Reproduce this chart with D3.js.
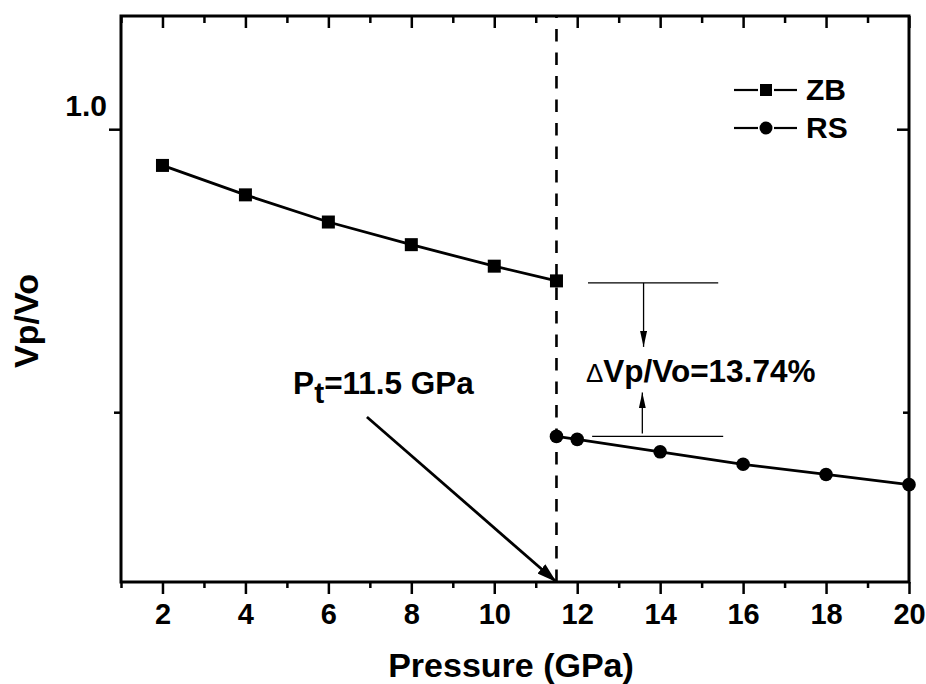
<!DOCTYPE html>
<html>
<head>
<meta charset="utf-8">
<script src="https://cdn.jsdelivr.net/npm/d3@7"></script>
<style>
  html, body { margin: 0; padding: 0; background: #fff; }
  svg text { font-family: "Liberation Sans", Arial, Helvetica, sans-serif; font-weight: bold; fill: #000; }
</style>
</head>
<body>
<svg id="chart" width="926" height="684"></svg>
<script>
// Pressure (GPa) and relative volume Vp/Vo for the two phases
const zbPressure = [2, 4, 6, 8, 10, 11.5];
const zbVolume   = [0.968, 0.942, 0.918, 0.898, 0.879, 0.866];
const rsPressure = [11.5, 12, 14, 16, 18, 20];
const rsVolume   = [0.7286, 0.726, 0.715, 0.704, 0.695, 0.686];

const xMajorTicks = [2, 4, 6, 8, 10, 12, 14, 16, 18, 20];
const xMinorTicks = [1, 3, 5, 7, 9, 11, 13, 15, 17, 19];
const yMajorTicks = [1.0];
const yMinorTicks = [0.75];

const transitionPressure = 11.5;
const volumeCollapse = 13.74; // percent

const svg = d3.select("#chart");
const m = { left: 121, right: 909, top: 16, bottom: 582 };

const x = d3.scaleLinear().domain([1, 20]).range([m.left, m.right]);
const y = d3.scaleLinear().domain([0.6, 1.1]).range([m.bottom, m.top]);

const zb = zbPressure.map((p, i) => ({ p, v: zbVolume[i] }));
const rs = rsPressure.map((p, i) => ({ p, v: rsVolume[i] }));

// Arrow heads
const defs = svg.append("defs");
defs.append("marker").attr("id", "bigHead")
  .attr("viewBox", "0 0 20 12").attr("refX", 20).attr("refY", 6)
  .attr("markerUnits", "userSpaceOnUse").attr("markerWidth", 20).attr("markerHeight", 12)
  .attr("orient", "auto")
  .append("path").attr("d", "M0,0 L20,6 L0,12 Z").attr("fill", "#000");
defs.append("marker").attr("id", "smallHead")
  .attr("viewBox", "0 0 16 7").attr("refX", 16).attr("refY", 3.5)
  .attr("markerUnits", "userSpaceOnUse").attr("markerWidth", 16).attr("markerHeight", 7)
  .attr("orient", "auto")
  .append("path").attr("d", "M0,0 L16,3.5 L0,7 Z").attr("fill", "#000");

// Axes: bottom/left ticks outward, top/right ticks inward
const axisStyle = g => {
  g.select(".domain").remove();
  g.selectAll(".tick line").attr("stroke", "#000").attr("stroke-width", 2.5);
};
const fmtX = d3.format("d");

svg.append("g").attr("transform", `translate(0,${m.bottom})`)
  .call(d3.axisBottom(x).tickValues(xMajorTicks).tickSize(12).tickPadding(9).tickFormat(fmtX))
  .call(axisStyle)
  .call(g => g.selectAll("text").attr("font-size", 29));
svg.append("g").attr("transform", `translate(0,${m.bottom})`)
  .call(d3.axisBottom(x).tickValues(xMinorTicks).tickSize(6).tickFormat(""))
  .call(axisStyle);

svg.append("g").attr("transform", `translate(0,${m.top})`)
  .call(d3.axisBottom(x).tickValues(xMajorTicks).tickSize(12).tickFormat(""))
  .call(axisStyle);
svg.append("g").attr("transform", `translate(0,${m.top})`)
  .call(d3.axisBottom(x).tickValues(xMinorTicks).tickSize(7).tickFormat(""))
  .call(axisStyle);

svg.append("g").attr("transform", `translate(${m.left},0)`)
  .call(d3.axisLeft(y).tickValues(yMajorTicks).tickSize(12).tickPadding(2).tickFormat(d3.format(".1f")))
  .call(axisStyle)
  .call(g => g.selectAll("text").attr("font-size", 30).attr("dy", "-0.45em"));
svg.append("g").attr("transform", `translate(${m.left},0)`)
  .call(d3.axisLeft(y).tickValues(yMinorTicks).tickSize(7).tickFormat(""))
  .call(axisStyle);

svg.append("g").attr("transform", `translate(${m.right},0)`)
  .call(d3.axisRight(y).tickValues(yMajorTicks).tickSize(-12).tickFormat(""))
  .call(axisStyle);
svg.append("g").attr("transform", `translate(${m.right},0)`)
  .call(d3.axisRight(y).tickValues(yMinorTicks).tickSize(-6).tickFormat(""))
  .call(axisStyle);

// Frame
svg.append("rect")
  .attr("x", m.left).attr("y", m.top)
  .attr("width", m.right - m.left).attr("height", m.bottom - m.top)
  .attr("fill", "none").attr("stroke", "#000").attr("stroke-width", 3);

// Transition pressure marker
svg.append("line")
  .attr("x1", x(transitionPressure)).attr("x2", x(transitionPressure))
  .attr("y1", m.bottom).attr("y2", m.top)
  .attr("stroke", "#000").attr("stroke-width", 2.6)
  .attr("stroke-dasharray", "12.5,11");

// Series
const line = d3.line().x(d => x(d.p)).y(d => y(d.v));
svg.append("path").datum(zb).attr("d", line)
  .attr("fill", "none").attr("stroke", "#000").attr("stroke-width", 2.8);
svg.append("path").datum(rs).attr("d", line)
  .attr("fill", "none").attr("stroke", "#000").attr("stroke-width", 2.8);

const sq = 13;
svg.append("g").selectAll("rect").data(zb).join("rect")
  .attr("x", d => x(d.p) - sq / 2).attr("y", d => y(d.v) - sq / 2)
  .attr("width", sq).attr("height", sq).attr("fill", "#000");
svg.append("g").selectAll("circle").data(rs).join("circle")
  .attr("cx", d => x(d.p)).attr("cy", d => y(d.v)).attr("r", 6.8).attr("fill", "#000");

// Volume collapse annotation: guide lines at both volumes, arrows pointing at the text
const vHigh = zbVolume[zbVolume.length - 1];
const vLow = rsVolume[0];
const yHigh = y(vHigh) + 2;
const yLow = y(vLow);
svg.append("line")
  .attr("x1", x(12.26)).attr("x2", x(15.4)).attr("y1", yHigh).attr("y2", yHigh)
  .attr("stroke", "#000").attr("stroke-width", 1.3);
svg.append("line")
  .attr("x1", x(12.36)).attr("x2", x(15.52)).attr("y1", yLow).attr("y2", yLow)
  .attr("stroke", "#000").attr("stroke-width", 1.3);
svg.append("line")
  .attr("x1", x(13.6)).attr("x2", x(13.6)).attr("y1", yHigh).attr("y2", yHigh + 64)
  .attr("stroke", "#000").attr("stroke-width", 1.3).attr("marker-end", "url(#smallHead)");
svg.append("line")
  .attr("x1", x(13.57)).attr("x2", x(13.57)).attr("y1", yLow - 3).attr("y2", yLow - 44)
  .attr("stroke", "#000").attr("stroke-width", 1.3).attr("marker-end", "url(#smallHead)");

const dText = svg.append("text").attr("x", x(12.21)).attr("y", 382).attr("font-size", 31.5);
dText.append("tspan").text("Δ").attr("font-weight", "normal").attr("font-size", 26);
dText.append("tspan").text(`Vp/Vo=${volumeCollapse}%`);

// Transition pressure label and arrow
const pText = svg.append("text").attr("x", x(5.15)).attr("y", 394).attr("font-size", 31.5);
pText.append("tspan").text("P");
pText.append("tspan").text("t").attr("dy", 9).attr("font-size", 30);
pText.append("tspan").text(`=${transitionPressure} GPa`).attr("dy", -9);

svg.append("line")
  .attr("x1", x(6.93)).attr("y1", 417)
  .attr("x2", x(transitionPressure)).attr("y2", y(0.6))
  .attr("stroke", "#000").attr("stroke-width", 2.8).attr("marker-end", "url(#bigHead)");

// Legend
const legend = svg.append("g");
const legendRows = [{ name: "ZB", y: 90, shape: "square" }, { name: "RS", y: 128, shape: "circle" }];
legendRows.forEach(r => {
  legend.append("line").attr("x1", 734).attr("x2", 758).attr("y1", r.y).attr("y2", r.y)
    .attr("stroke", "#000").attr("stroke-width", 2.2);
  legend.append("line").attr("x1", 774).attr("x2", 797).attr("y1", r.y).attr("y2", r.y)
    .attr("stroke", "#000").attr("stroke-width", 2.2);
  if (r.shape === "square") {
    legend.append("rect").attr("x", 766 - 6).attr("y", r.y - 6).attr("width", 12).attr("height", 12).attr("fill", "#000");
  } else {
    legend.append("circle").attr("cx", 766).attr("cy", r.y).attr("r", 6.5).attr("fill", "#000");
  }
  legend.append("text").attr("x", 806).attr("y", r.y + 10).attr("font-size", 30).text(r.name);
});

// Axis titles
svg.append("text").attr("x", (m.left + m.right) / 2 - 4).attr("y", 677)
  .attr("text-anchor", "middle").attr("font-size", 34).text("Pressure (GPa)");
svg.append("text").attr("transform", "translate(38,321) rotate(-90)")
  .attr("text-anchor", "middle").attr("font-size", 34).text("Vp/Vo");
</script>
</body>
</html>
